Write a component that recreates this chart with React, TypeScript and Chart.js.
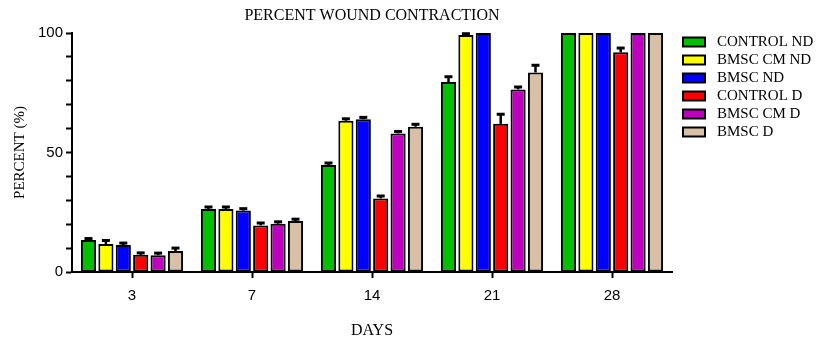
import React, { useEffect, useRef } from "react";
import { Chart, registerables } from "chart.js";

Chart.register(...registerables);

const categories = ["3", "7", "14", "21", "28"];
const seriesNames = ["CONTROL ND", "BMSC CM ND", "BMSC ND", "CONTROL D", "BMSC CM D", "BMSC D"];
const seriesColors = ["#00c000", "#ffff00", "#0000ff", "#ff0000", "#bf00bf", "#d8bfa8"];

const controlND = [13.4, 26.4, 44.8, 79.5, 100];
const bmscCmND = [11.7, 26.4, 63.3, 99.2, 100];
const bmscND = [11.3, 25.7, 63.9, 100, 100];
const controlD = [7.2, 19.5, 30.8, 62, 91.9];
const bmscCmD = [7.0, 20.2, 58, 76.4, 100];
const bmscD = [8.8, 21.3, 60.8, 83.5, 100];

const controlNDErr = [0.6, 0.8, 0.8, 2.2, 0];
const bmscCmNDErr = [1.5, 0.8, 0.8, 0.5, 0];
const bmscNDErr = [0.8, 0.8, 0.8, 0, 0];
const controlDErr = [0.8, 1.0, 1.0, 4.0, 1.8];
const bmscCmDErr = [0.9, 0.8, 0.8, 1.0, 0];
const bmscDErr = [1.2, 0.8, 1.0, 3.0, 0];

const yTicksMajor = [0, 50, 100];

const titleText = "PERCENT WOUND CONTRACTION";
const xTitle = "DAYS";
const yTitle = "PERCENT (%)";

const seriesValues = [controlND, bmscCmND, bmscND, controlD, bmscCmD, bmscD];
const seriesErrors = [controlNDErr, bmscCmNDErr, bmscNDErr, controlDErr, bmscCmDErr, bmscDErr];

const SERIF = "'Liberation Serif', 'Times New Roman', serif";
const SANS = "'Liberation Sans', Arial, sans-serif";

const extrasPlugin = {
  id: "extras",
  afterDatasetsDraw(chart: any) {
    const ctx = chart.ctx;
    const y = chart.scales.y;
    ctx.save();
    ctx.strokeStyle = "#000";
    ctx.lineWidth = 2.5;
    chart.data.datasets.forEach((ds: any, di: number) => {
      const meta = chart.getDatasetMeta(di);
      meta.data.forEach((bar: any, i: number) => {
        const err = seriesErrors[di][i];
        if (!err) return;
        const v = ds.data[i];
        const top = y.getPixelForValue(Math.min(100, v + err));
        const base = y.getPixelForValue(v);
        ctx.beginPath();
        ctx.moveTo(bar.x, base);
        ctx.lineTo(bar.x, top);
        ctx.stroke();
        ctx.lineWidth = 3;
        ctx.beginPath();
        ctx.moveTo(bar.x - 4, top);
        ctx.lineTo(bar.x + 4, top);
        ctx.stroke();
        ctx.lineWidth = 2.5;
      });
    });
    ctx.restore();
  },
  afterDraw(chart: any) {
    const ctx = chart.ctx;
    const area = chart.chartArea;
    ctx.save();
    ctx.fillStyle = "#000";
    ctx.textAlign = "center";
    ctx.textBaseline = "middle";
    ctx.font = `16px ${SERIF}`;
    ctx.fillText(titleText, (area.left + area.right) / 2, 16);
    ctx.fillText(xTitle, (area.left + area.right) / 2, 331);
    ctx.save();
    ctx.translate(20, (area.top + area.bottom) / 2);
    ctx.rotate(-Math.PI / 2);
    ctx.font = `15px ${SERIF}`;
    ctx.fillText(yTitle, 0, 0);
    ctx.restore();

    // legend
    ctx.textAlign = "left";
    ctx.font = `15px ${SERIF}`;
    seriesNames.forEach((name, i) => {
      const cy = 42 + i * 18;
      ctx.fillStyle = seriesColors[i];
      ctx.fillRect(683, cy - 4.5, 22, 9);
      ctx.strokeStyle = "#000";
      ctx.lineWidth = 2;
      ctx.strokeRect(683, cy - 4.5, 22, 9);
      ctx.fillStyle = "#000";
      ctx.fillText(name, 717, cy);
    });
    ctx.restore();
  },
};

export default function App() {
  const canvasRef = useRef<HTMLCanvasElement | null>(null);

  useEffect(() => {
    document.body.style.margin = "0";
    const canvas = canvasRef.current;
    if (!canvas) return;
    const chart = new Chart(canvas, {
      type: "bar",
      data: {
        labels: categories,
        datasets: seriesNames.map((name, i) => ({
          label: name,
          data: seriesValues[i],
          backgroundColor: seriesColors[i],
          borderColor: "#000",
          borderWidth: 2,
          borderSkipped: false,
          categoryPercentage: 0.87,
          barPercentage: 0.87,
        })),
      },
      options: {
        responsive: false,
        animation: false,
        devicePixelRatio: 1,
        layout: { padding: { top: 33, right: 146, left: 0, bottom: 0 } },
        plugins: {
          legend: { display: false },
          title: { display: false },
          tooltip: { enabled: false },
        },
        scales: {
          x: {
            afterFit: (scale: any) => {
              scale.height = 67;
            },
            grid: {
              offset: false,
              drawOnChartArea: false,
              drawTicks: true,
              tickLength: 6,
              tickWidth: 2,
              tickColor: "#000",
            },
            border: { display: true, color: "#000", width: 2 },
            ticks: {
              color: "#000",
              font: { family: SANS, size: 15 },
              padding: 9,
              maxRotation: 0,
            },
          },
          y: {
            min: 0,
            max: 100,
            afterFit: (scale: any) => {
              scale.width = 72;
            },
            grid: {
              drawOnChartArea: false,
              drawTicks: true,
              tickLength: 6,
              tickWidth: 2,
              tickColor: "#000",
            },
            border: { display: true, color: "#000", width: 2 },
            ticks: {
              stepSize: 10,
              color: "#000",
              font: { family: SANS, size: 15 },
              padding: 3,
              callback: (v: any) => (yTicksMajor.includes(Number(v)) ? String(v) : ""),
            },
          },
        },
      },
      plugins: [extrasPlugin],
    });
    return () => chart.destroy();
  }, []);

  return (
    <div style={{ width: 818, height: 339 }}>
      <canvas ref={canvasRef} width={818} height={339} style={{ display: "block" }} />
    </div>
  );
}
